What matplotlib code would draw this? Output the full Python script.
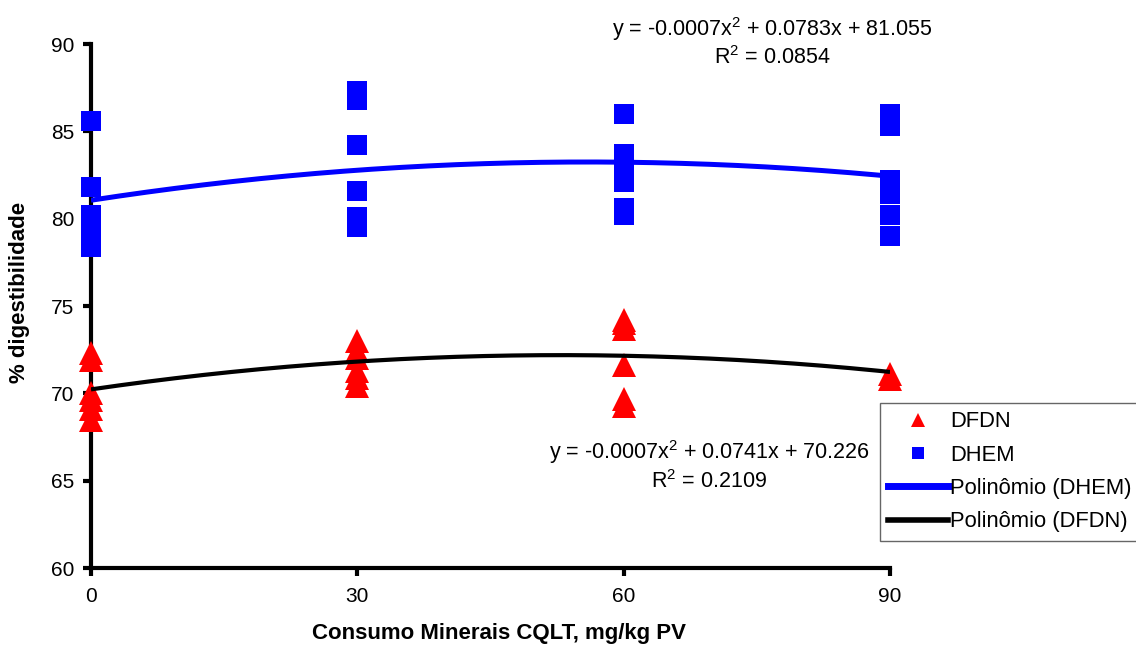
import numpy as np
import matplotlib
matplotlib.use("Agg")
import matplotlib.pyplot as plt
from matplotlib.lines import Line2D

plt.rcParams['font.family'] = ['Liberation Sans', 'DejaVu Sans']
plt.rcParams['mathtext.fontset'] = 'custom'
plt.rcParams['mathtext.rm'] = 'Liberation Sans'

# ---- data ----
doses = [0, 30, 60, 90]
dfdn_values = [
    [72.3, 71.9, 70.0, 69.6, 69.1, 68.5],
    [73.0, 72.4, 72.0, 71.3, 70.9, 70.4],
    [74.2, 74.0, 73.7, 71.6, 69.7, 69.3],
    [71.1, 70.8],
]
dhem_values = [
    [85.6, 81.8, 80.2, 79.3, 78.4],
    [87.3, 86.8, 84.2, 81.6, 80.1, 79.5],
    [86.0, 83.7, 83.0, 82.1, 80.6, 80.2],
    [86.0, 85.3, 82.2, 81.4, 80.2, 79.0],
]
# trendline coefficients (a*x^2 + b*x + c)
dhem_coef = [-0.0007, 0.0783, 81.055]
dfdn_coef = [-0.0007, 0.0741, 70.226]
dhem_eq = ["y = -0.0007x$^{2}$ + 0.0783x + 81.055", "R$^{2}$ = 0.0854"]
dfdn_eq = ["y = -0.0007x$^{2}$ + 0.0741x + 70.226", "R$^{2}$ = 0.2109"]
xticks = [0, 30, 60, 90]
yticks = [60, 65, 70, 75, 80, 85, 90]

W, H = 1136, 646
fig = plt.figure(figsize=(W / 100, H / 100), dpi=100)
ax = fig.add_axes([91 / W, 1 - 568 / H, (890 - 91) / W, (568 - 44) / H])

xs_f = np.concatenate([[d] * len(v) for d, v in zip(doses, dfdn_values)])
ys_f = np.concatenate(dfdn_values)
xs_h = np.concatenate([[d] * len(v) for d, v in zip(doses, dhem_values)])
ys_h = np.concatenate(dhem_values)

ax.plot(xs_f, ys_f, ls='none', marker='^', ms=17, color='#FF0000',
        markeredgewidth=0, clip_on=False, zorder=3)
ax.plot(xs_h, ys_h, ls='none', marker='s', ms=14, color='#0000FF',
        markeredgewidth=0, clip_on=False, zorder=3)

xx = np.linspace(0, 90, 200)
ax.plot(xx, np.polyval(dhem_coef, xx), color='#0000FF', lw=3.6, zorder=4,
        solid_capstyle='butt')
ax.plot(xx, np.polyval(dfdn_coef, xx), color='black', lw=3.0, zorder=4,
        solid_capstyle='butt')

ax.set_xlim(0, 90)
ax.set_ylim(60, 90)
ax.set_xticks(xticks)
ax.set_yticks(yticks)
for s in ['top', 'right']:
    ax.spines[s].set_visible(False)
for s in ['left', 'bottom']:
    ax.spines[s].set_linewidth(3)
ax.tick_params(axis='both', direction='out', length=6, width=3,
               labelsize=15, color='black')
ax.tick_params(axis='x', pad=8)
ax.tick_params(axis='y', pad=6)

fig.text(499 / W, 1 - 634 / H, "Consumo Minerais CQLT, mg/kg PV",
         ha='center', va='center', fontsize=16, fontweight='bold')
fig.text(20 / W, 1 - 292 / H, "% digestibilidade", ha='center', va='center',
         rotation=90, fontsize=16, fontweight='bold')

fig.text(772 / W, 1 - 29 / H, dhem_eq[0], ha='center', va='center', fontsize=15.5)
fig.text(772 / W, 1 - 58 / H, dhem_eq[1], ha='center', va='center', fontsize=15.5)
fig.text(709 / W, 1 - 452 / H, dfdn_eq[0], ha='center', va='center', fontsize=15.5)
fig.text(709 / W, 1 - 482 / H, dfdn_eq[1], ha='center', va='center', fontsize=15.5)

handles = [
    Line2D([], [], ls='none', marker='^', ms=10, color='#FF0000', markeredgewidth=0),
    Line2D([], [], ls='none', marker='s', ms=9, color='#0000FF', markeredgewidth=0),
    Line2D([], [], color='#0000FF', lw=5),
    Line2D([], [], color='black', lw=4),
]
labels = ["DFDN", "DHEM", "Polinômio (DHEM)", "Polinômio (DFDN)"]
leg = fig.legend(handles, labels, loc='upper left',
                 bbox_to_anchor=(880 / W, 1 - 403 / H), fontsize=15.8,
                 frameon=True, fancybox=False, handlelength=2.7,
                 handletextpad=0.12, labelspacing=0.56, borderpad=0.38,
                 borderaxespad=0)
leg.get_frame().set_edgecolor('#404040')
leg.get_frame().set_linewidth(1.0)

fig.savefig("out.png", dpi=100)
